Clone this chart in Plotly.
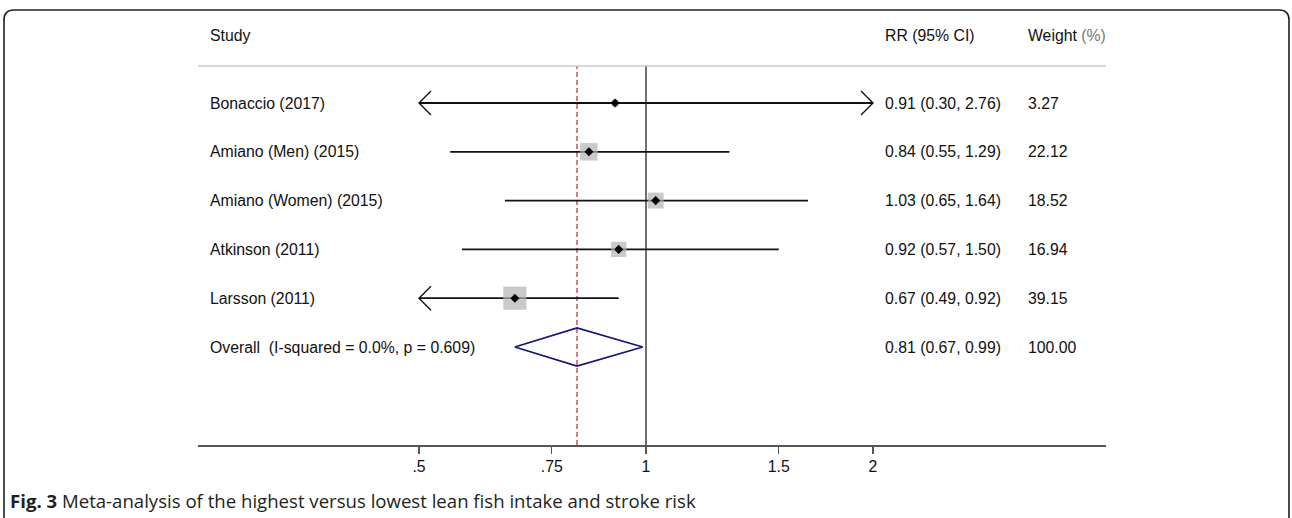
import math
import plotly.graph_objects as go

# ---------------- data ----------------
studies = ["Bonaccio (2017)", "Amiano (Men) (2015)", "Amiano (Women) (2015)",
           "Atkinson (2011)", "Larsson (2011)"]
rr = [0.91, 0.84, 1.03, 0.92, 0.67]
ci_low = [0.30, 0.55, 0.65, 0.57, 0.49]
ci_high = [2.76, 1.29, 1.64, 1.50, 0.92]
weights = [3.27, 22.12, 18.52, 16.94, 39.15]
rr_text = ["0.91 (0.30, 2.76)", "0.84 (0.55, 1.29)", "1.03 (0.65, 1.64)",
           "0.92 (0.57, 1.50)", "0.67 (0.49, 0.92)"]
weight_text = ["3.27", "22.12", "18.52", "16.94", "39.15"]

overall_label = "Overall  (I-squared = 0.0%, p = 0.609)"
overall_rr = 0.81
overall_low = 0.67
overall_high = 0.99
overall_rr_text = "0.81 (0.67, 0.99)"
overall_weight_text = "100.00"

tick_vals = [0.5, 0.75, 1, 1.5, 2]
tick_text = [".5", ".75", "1", "1.5", "2"]
caption_bold = "Fig. 3"
caption_rest = "Meta-analysis of the highest versus lowest lean fish intake and stroke risk"

# ---------------- layout geometry ----------------
W, H = 1292, 518
ML, MR, MT, MB = 198, 1292 - 1106, 66, 518 - 445
PW, PH = W - ML - MR, H - MT - MB
FONT = "Liberation Sans, Arial, sans-serif"
FS = 15.8

def pxx(px):
    return (px - ML) / PW

def pxy(py):
    return (H - MB - py) / PH

# x axis: log, 0.5 at px 419, 2 at px 873
px_per_dec = (873 - 419) / (math.log10(2) - math.log10(0.5))
xr0 = math.log10(0.5) - (419 - ML) / px_per_dec
xr1 = math.log10(2) + (ML + PW - 873) / px_per_dec

# rows: row 1 at px 103, spacing 48.8
row_px = 48.8
rows = list(range(1, len(studies) + 1))
overall_row = len(studies) + 1
yr_bottom = 1 + (H - MB - 103) / row_px
yr_top = 1 + (MT - 103) / row_px

clip_lo, clip_hi = min(tick_vals), max(tick_vals)
arm_fac = 10 ** (12 / px_per_dec)
arm_dy = 12 / row_px

fig = go.Figure()

# CI lines + arrows
for r, lo, hi in zip(rows, ci_low, ci_high):
    x0 = max(lo, clip_lo)
    x1 = min(hi, clip_hi)
    fig.add_trace(go.Scatter(x=[x0, x1], y=[r, r], mode="lines",
                             line=dict(color="#111111", width=1.8),
                             hoverinfo="skip"))
    if lo < clip_lo:
        fig.add_trace(go.Scatter(x=[x0 * arm_fac, x0, x0 * arm_fac],
                                 y=[r - arm_dy, r, r + arm_dy], mode="lines",
                                 line=dict(color="#111111", width=1.4),
                                 hoverinfo="skip"))
    if hi > clip_hi:
        fig.add_trace(go.Scatter(x=[x1 / arm_fac, x1, x1 / arm_fac],
                                 y=[r - arm_dy, r, r + arm_dy], mode="lines",
                                 line=dict(color="#111111", width=1.4),
                                 hoverinfo="skip"))

# weight squares
fig.add_trace(go.Scatter(x=rr, y=rows, mode="markers",
                         marker=dict(symbol="square", color="#b4b4b4",
                                     size=[3.7 * math.sqrt(w) for w in weights],
                                     line=dict(width=0)),
                         hoverinfo="skip"))
# point estimates
fig.add_trace(go.Scatter(x=rr, y=rows, mode="markers",
                         marker=dict(symbol="diamond", color="#000000", size=7),
                         hoverinfo="skip"))

# overall diamond
dh = 19 / row_px
fig.add_trace(go.Scatter(x=[overall_low, overall_rr, overall_high, overall_rr, overall_low],
                         y=[overall_row, overall_row - dh, overall_row, overall_row + dh, overall_row],
                         mode="lines", line=dict(color="#14147a", width=1.7),
                         hoverinfo="skip"))

shapes = []
# null line and overall line
shapes.append(dict(type="line", xref="x", yref="paper", x0=1, x1=1, y0=0, y1=1,
                   line=dict(color="#222222", width=1.3), layer="below"))
shapes.append(dict(type="line", xref="x", yref="paper", x0=overall_rr, x1=overall_rr,
                   y0=0, y1=1, line=dict(color="#b83c46", width=1.3, dash="5px,3px"),
                   layer="below"))
# header divider
shapes.append(dict(type="line", xref="paper", yref="paper", x0=0, x1=1, y0=1, y1=1,
                   line=dict(color="#c8c8c8", width=1.5)))
# outer rounded border (page pixels)
bl, br, bt, bb, rad = 4, 1289, 10, 560, 10
path = (f"M {pxx(bl)},{pxy(bb)} L {pxx(bl)},{pxy(bt + rad)} "
        f"Q {pxx(bl)},{pxy(bt)} {pxx(bl + rad)},{pxy(bt)} "
        f"L {pxx(br - rad)},{pxy(bt)} Q {pxx(br)},{pxy(bt)} {pxx(br)},{pxy(bt + rad)} "
        f"L {pxx(br)},{pxy(bb)}")
shapes.append(dict(type="path", xref="paper", yref="paper", path=path,
                   line=dict(color="#231f20", width=1.6)))

annotations = []
col_study = pxx(208)
col_rr = pxx(883)
col_w = pxx(1026)
hdr_y = pxy(35)
tfont = dict(family=FONT, size=FS, color="#111111")
annotations.append(dict(text="Study", xref="paper", yref="paper", x=col_study, y=hdr_y,
                        xanchor="left", yanchor="middle", showarrow=False, font=tfont))
annotations.append(dict(text="RR (95% CI)", xref="paper", yref="paper", x=col_rr, y=hdr_y,
                        xanchor="left", yanchor="middle", showarrow=False, font=tfont))
annotations.append(dict(text="Weight <span style='color:#777777'>(%)</span>", xref="paper",
                        yref="paper", x=col_w, y=hdr_y, xanchor="left", yanchor="middle",
                        showarrow=False, font=tfont))
for r, s, t, w in zip(rows + [overall_row], studies + [overall_label],
                      rr_text + [overall_rr_text], weight_text + [overall_weight_text]):
    for xx, txt in ((col_study, s), (col_rr, t), (col_w, w)):
        annotations.append(dict(text=txt, xref="paper", yref="y", x=xx, y=r,
                                xanchor="left", yanchor="middle", showarrow=False,
                                font=tfont))
annotations.append(dict(text=f"<b>{caption_bold}</b> {caption_rest}", xref="paper",
                        yref="paper", x=pxx(8), y=pxy(500), xanchor="left",
                        yanchor="middle", showarrow=False,
                        font=dict(family="Open Sans, sans-serif", size=18.6, color="#231f20")))

fig.update_layout(
    width=W, height=H, autosize=False,
    margin=dict(l=ML, r=MR, t=MT, b=MB, pad=0),
    paper_bgcolor="white", plot_bgcolor="white",
    showlegend=False,
    shapes=shapes, annotations=annotations,
    xaxis=dict(type="log", range=[xr0, xr1], tickvals=tick_vals, ticktext=tick_text,
               showgrid=False, zeroline=False, showline=True, linecolor="#555555",
               linewidth=1.5, ticks="outside", ticklen=7, tickwidth=1.3,
               tickcolor="#555555", tickfont=dict(family=FONT, size=FS, color="#111111"),
               fixedrange=True),
    yaxis=dict(range=[yr_bottom, yr_top], visible=False, showgrid=False,
               zeroline=False, fixedrange=True),
)

fig.write_html("out.html",
               config={"displayModeBar": False, "staticPlot": True},
               post_script="document.body.style.margin='0px';"
                           "document.body.style.overflow='hidden';")
